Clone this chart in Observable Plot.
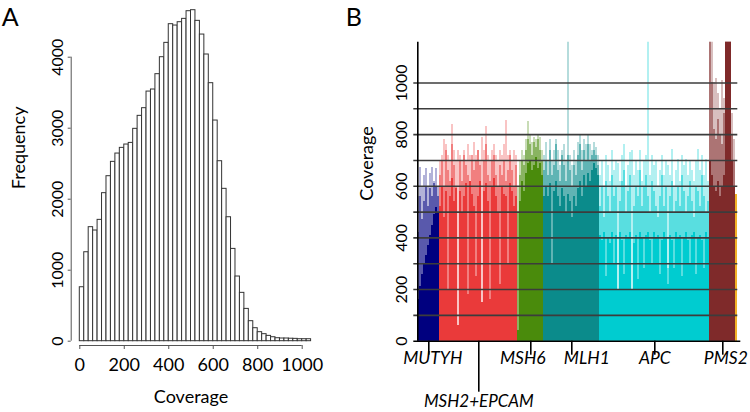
<!DOCTYPE html>
<html><head><meta charset="utf-8">
<script src="https://cdn.jsdelivr.net/npm/d3@7"></script>
<script src="https://cdn.jsdelivr.net/npm/@observablehq/plot@0.6"></script>
<style>
html,body{margin:0;padding:0;background:#fff;}
#wrap{display:flex;width:750px;height:412px;}
</style></head><body><div id="wrap"></div>
<script>
// ---------- Panel A: histogram of coverage ----------
const binStarts = [0,20,40,60,80,100,120,140,160,180,200,220,240,260,280,300,320,340,360,380,400,420,440,460,480,500,520,540,560,580,600,620,640,660,680,700,720,740,760,780,800,820,840,860,880,900,920,940,960,980,1000,1020];
const binWidth = 20;
const frequency = [760,1253,1606,1559,1709,2085,2324,2526,2643,2723,
  2770,2793,2991,3174,3282,3516,3545,3761,4000,4202,
  4465,4446,4493,4540,4648,4662,4512,4319,4038,3634,
  3108,2535,2146,1746,1300,911,681,455,282,183,
  127,99,75,56,42,38,38,35,33,28,28,28];
const xTicksA = [0,200,400,600,800,1000];
const yTicksA = [0,1000,2000,3000,4000];

// ---------- Panel B: coverage per amplicon, by gene ----------
const geneNames = ["MUTYH","MSH2+EPCAM","MSH6","MLH1","APC","PMS2","other"];
const geneLabels = ["MUTYH","MSH2+EPCAM","MSH6","MLH1","APC","PMS2",""];
const geneColors = ["#00007f","#ea3a3a","#4a8b0c","#0b8b8b","#00ccd0","#7f2a2a","#f2b127"];

const mutyhSolid = [160,210,260,300,330,370,410,450,490,517,500];
const mutyhMid   = [420,560,470,540,600,520,590,560,610,600,560];
const mutyhHigh  = [560,672,600,640,668,600,650,672,620,670,600];

const msh2Solid = [520,600,480,580,200,560,630,540,590,60, 580,500,560,610,180,620,570,520,250,560, 620,150,580,610,540,160,600,630,560,500, 220,600,570,560,300,610,580,520,560];
const msh2Mid   = [640,700,600,740,660,620,760,680,600,60, 700,620,720,680,640,620,720,660,700,740, 680,150,700,760,640,620,700,720,640,600, 680,640,700,620,660,720,660,600,680];
const msh2High  = [700,720,780,760,720,700,840,740,700,740, 720,700,740,700,760,720,700,770,720,740, 700,790,740,830,720,700,740,760,720,700, 740,720,760,855,720,740,700,740,720];

const msh6Solid = [40,540,620,580,650,690,700,660,680,710,670,690,640];
const msh6Mid   = [500,640,700,680,740,780,760,720,770,750,780,740,700];
const msh6High  = [600,700,740,720,780,852,800,770,790,780,800,790,740];

const mlh1Solid = [560,600,560,610,300,580,620,560,520,590, 560,500,570,540,480,560,520,590,620,560, 640,600,650,620,660,690,670,640];
const mlh1Mid   = [660,700,640,740,640,680,760,660,620,720, 680,620,720,660,600,680,640,720,760,660, 740,700,760,700,720,740,720,680];
const mlh1High  = [720,770,700,780,700,740,780,740,680,740, 760,700,1400,720,680,740,700,770,795,740, 780,760,795,760,740,770,750,720];

const apcSolid = [410,390,420,250,400,380,420,300,410,200, 420,390,260,410,400,420,200,380,410,240, 420,400,280,410,420,390,300,420,400,410, 260,390,420,400,220,410,390,280,420,400, 410,250,400,420,390,300,410,420,260,400, 410,390,280,420,400];
const apcMid   = [520,600,480,620,560,500,640,560,600,200, 540,620,660,500,580,640,200,520,600,560, 660,520,600,640,560,500,620,580,520,480, 560,640,520,600,280,560,620,500,540,600, 520,640,580,500,560,620,540,480,600,580, 520,640,560,500,540];
const apcHigh  = [640,700,600,720,680,620,740,660,700,690, 620,720,760,600,680,730,740,640,700,660, 740,620,700,720,1400,640,720,680,700,600, 660,720,640,700,680,640,744,600,660,705, 620,720,680,705,640,700,660,620,700,744, 660,720,640,705,620];

const pms2Solid = [700,640,600,580,620,560,600,640,1400,1400,1400,700,600];
const pms2Mid   = [1400,1000,820,780,860,800,760,880,1400,1400,1400,800,700];
const pms2High  = [1400,1400,1000,1018,960,900,1010,940,1400,1400,1400,880,780];

const otherSolid = [570];
const otherMid   = [570];
const otherHigh  = [570];

const yTicksB = [0,200,400,600,800,1000];
const gridB = [100,200,300,400,500,600,700,800,900,1000];

// ---------- build panel A ----------
const hist = frequency.map((f, k) => ({lo: binStarts[k], hi: binStarts[k] + binWidth, f}));
const plotA = Plot.plot({
  width: 340, height: 412,
  marginLeft: 79.3, marginRight: 38.3, marginTop: 56.7, marginBottom: 71.3,
  x: {domain: [0, 1000], label: null},
  y: {domain: [0, 4000], label: null},
  style: {fontFamily: "Lato, 'Open Sans', sans-serif", color: "#000", background: "#fff"},
  marks: [
    Plot.rect(hist, {x1: "lo", x2: "hi", y1: () => 0, y2: "f", fill: "#fff", stroke: "#333", strokeWidth: 1}),
    Plot.ruleY([0], {x1: d3.min(xTicksA), x2: d3.max(xTicksA), dy: 4.3, stroke: "#555"}),
    Plot.axisX({ticks: xTicksA, tickSize: 4, dy: 4.3, tickPadding: 9, fontSize: 18, stroke: "#555", color: "#000", tickFormat: d => String(d), label: null}),
    Plot.ruleX([0], {y1: d3.min(yTicksA), y2: d3.max(yTicksA), dx: -8.6, stroke: "#555"}),
    Plot.axisY({ticks: yTicksA, tickSize: 3, dx: -8.6, tickRotate: -90, tickPadding: 5, fontSize: 16, stroke: "#555", tickFormat: d => String(d), label: null}),
    Plot.text(["Frequency"], {frameAnchor: "left", dx: -61, dy: -10, rotate: -90, fontSize: 18}),
    Plot.text(["Coverage"], {frameAnchor: "bottom", lineAnchor: "middle", dy: 56.3, fontSize: 18}),
    Plot.text(["A"], {frameAnchor: "top-left", lineAnchor: "middle", dx: -78, dy: -39.7, fontSize: 25, textAnchor: "start"})
  ]
});

// ---------- build panel B ----------
const layers = {
  "MUTYH": [mutyhSolid, mutyhMid, mutyhHigh],
  "MSH2+EPCAM": [msh2Solid, msh2Mid, msh2High],
  "MSH6": [msh6Solid, msh6Mid, msh6High],
  "MLH1": [mlh1Solid, mlh1Mid, mlh1High],
  "APC": [apcSolid, apcMid, apcHigh],
  "PMS2": [pms2Solid, pms2Mid, pms2High],
  "other": [otherSolid, otherMid, otherHigh]
};
const rows = [];
const geneTicks = [];
let offset = 0;
geneNames.forEach((g, gi) => {
  const [s, m, h] = layers[g];
  s.forEach((v, k) => rows.push({i: offset + k, gene: g, solid: v, mid: m[k], high: h[k]}));
  if (geneLabels[gi]) geneTicks.push({pos: offset + s.length / 2, label: geneLabels[gi]});
  offset += s.length;
});
const nPos = offset;
const longTickGene = "MSH2+EPCAM";
const labelNudge = {"MUTYH": 4, "MSH6": -8, "MLH1": 15, "PMS2": 3};

const barOpts = (key, op) => Plot.rect(rows, {
  x1: "i", x2: d => d.i + 1, y1: () => 0, y2: key, fill: "gene",
  fillOpacity: op, clip: true, shapeRendering: "crispEdges"
});

const marksB = [
  barOpts("high", 0.3),
  barOpts("mid", 0.5),
  barOpts("solid", 1),
  Plot.ruleY(gridB, {stroke: "#3c3c3c", strokeWidth: 1.6, insetLeft: -4}),
  Plot.ruleX([0], {stroke: "#000", strokeWidth: 1.6}),
  Plot.ruleY([0], {stroke: "#000", strokeWidth: 1.6, insetLeft: -4, insetRight: -3}),
  Plot.axisY({ticks: yTicksB, tickSize: 0, tickRotate: -90, tickPadding: 11, fontSize: 16, tickFormat: d => String(d), label: null}),
  Plot.axisX({ticks: geneTicks.filter(d => d.label !== longTickGene).map(d => d.pos), tickSize: 14, tickFormat: () => "", strokeWidth: 1.6, label: null}),
  Plot.axisX({ticks: geneTicks.filter(d => d.label === longTickGene).map(d => d.pos), tickSize: 51, tickFormat: () => "", strokeWidth: 1.6, label: null}),
  Plot.text(["Coverage"], {frameAnchor: "left", dx: -50.6, dy: 9, rotate: -90, fontSize: 18}),
  Plot.text(["B"], {frameAnchor: "top-left", lineAnchor: "middle", dx: -72, dy: -24.7, fontSize: 25, textAnchor: "start"})
];
geneTicks.forEach(t => {
  const isLong = t.label === longTickGene;
  marksB.push(Plot.text([t], {x: "pos", text: "label", frameAnchor: "bottom", lineAnchor: "middle",
    dy: isLong ? 60.8 : 17.5, dx: labelNudge[t.label] || 0, fontStyle: "italic", fontSize: isLong ? 17 : 17.5}));
});

const plotB = Plot.plot({
  width: 410, height: 412,
  marginLeft: 77.3, marginRight: 12.7, marginTop: 41.7, marginBottom: 71.3,
  x: {domain: [0, nPos], label: null},
  y: {domain: [0, 1158], label: null},
  color: {domain: geneNames, range: geneColors},
  style: {fontFamily: "Lato, 'Open Sans', sans-serif", color: "#000", background: "#fff"},
  marks: marksB
});

const wrap = document.getElementById("wrap");
wrap.appendChild(plotA);
wrap.appendChild(plotB);
</script></body></html>
